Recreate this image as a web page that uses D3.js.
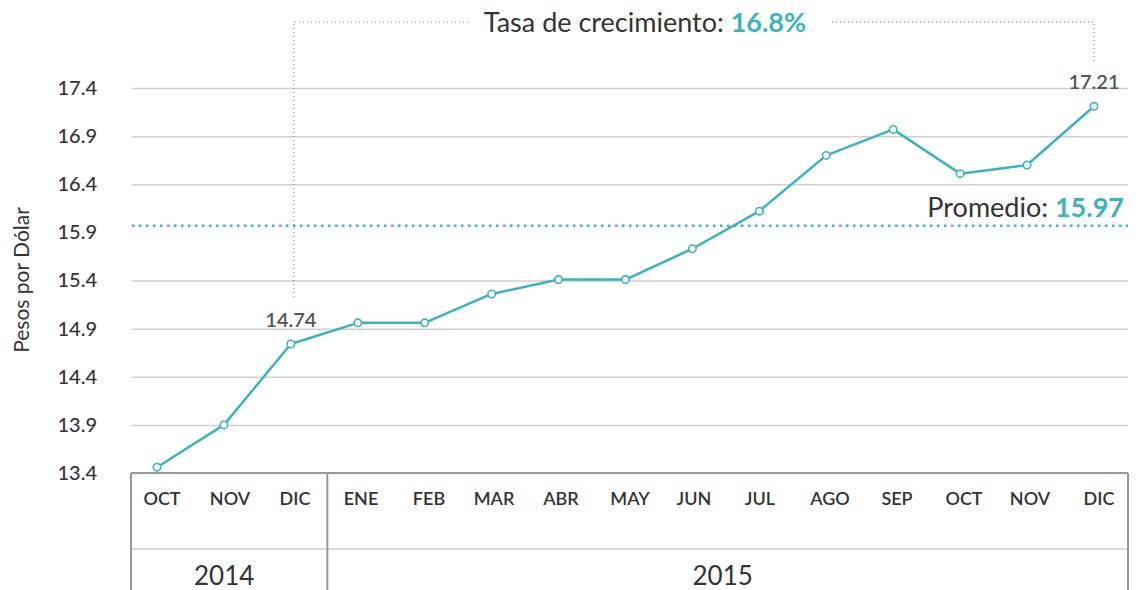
<!DOCTYPE html>
<html>
<head>
<meta charset="utf-8">
<script src="https://cdn.jsdelivr.net/npm/d3@7"></script>
<style>
  body { margin: 0; background: #fff; }
  svg { display: block; font-family: Lato, "Open Sans", sans-serif; }
</style>
</head>
<body>
<div id="chart"></div>
<script>
// datos: tipo de cambio mensual (pesos por dólar)
const meses = ['OCT', 'NOV', 'DIC', 'ENE', 'FEB', 'MAR', 'ABR', 'MAY', 'JUN', 'JUL', 'AGO', 'SEP', 'OCT', 'NOV', 'DIC'];
const anios = ['2014', '2014', '2014', '2015', '2015', '2015', '2015', '2015', '2015', '2015', '2015', '2015', '2015', '2015', '2015'];
const valores = [13.46, 13.90, 14.74, 14.96, 14.96, 15.26, 15.41, 15.41, 15.73, 16.12, 16.70, 16.97, 16.51, 16.60, 17.21];
const yTicks = [13.4, 13.9, 14.4, 14.9, 15.4, 15.9, 16.4, 16.9, 17.4];
const promedio = 15.97;
const tasaCrecimiento = '16.8%';
const etiquetados = [2, 14]; // indices con etiqueta de valor

const width = 1139;
const height = 590;
const tableLeft = 131;
const tableRight = 1128;
const tableTop = 473;
const tableMid = 549;
const teal = '#3db2bb';
const dark = '#333';

const svg = d3.select('#chart')
  .append('svg')
  .attr('width', width)
  .attr('height', height);

const idx = meses.map((d, i) => i);

const x = d3.scalePoint()
  .domain(idx)
  .range([157, 1094]);

const y = d3.scaleLinear()
  .domain([13.4, 17.4])
  .range([tableTop, 88]);

// eje y + lineas de grilla (la del promedio reemplaza a la grilla más cercana)
svg.append('g')
  .attr('transform', `translate(${tableLeft + 1},0)`)
  .call(d3.axisLeft(y).tickValues(yTicks).tickFormat(d3.format('.1f'))
    .tickSize(-(tableRight - tableLeft - 1)).tickPadding(35))
  .call(g => g.select('.domain').remove())
  .call(g => g.selectAll('.tick line')
    .attr('stroke', '#cfcfcf').attr('stroke-width', 1.5)
    .attr('stroke-opacity', d => Math.abs(d - promedio) < 0.1 ? 0 : 1))
  .call(g => g.selectAll('.tick text')
    .attr('fill', dark)
    .attr('font-size', 20)
    .attr('font-weight', 500)
    .attr('font-family', 'Lato, sans-serif'));

svg.append('text')
  .attr('transform', 'translate(29,280) rotate(-90)')
  .attr('text-anchor', 'middle')
  .attr('font-size', 21)
  .attr('fill', dark)
  .text('Pesos por Dólar');

// linea de promedio
svg.append('line')
  .attr('x1', tableLeft + 1)
  .attr('x2', tableRight)
  .attr('y1', y(promedio))
  .attr('y2', y(promedio))
  .attr('stroke', teal)
  .attr('stroke-width', 2.5)
  .attr('stroke-dasharray', '2.5,4.5');

const prom = svg.append('text')
  .attr('x', 1124)
  .attr('y', y(promedio) - 9)
  .attr('text-anchor', 'end')
  .attr('font-size', 27)
  .attr('fill', dark);
prom.append('tspan').text('Promedio: ');
prom.append('tspan').attr('font-weight', 'bold').attr('fill', teal).text(promedio.toFixed(2));

// tabla de meses / años
const tabla = svg.append('g');
tabla.append('line')
  .attr('x1', tableLeft).attr('x2', tableRight)
  .attr('y1', tableTop).attr('y2', tableTop)
  .attr('stroke', '#999').attr('stroke-width', 2);
tabla.append('line')
  .attr('x1', tableLeft).attr('x2', tableRight)
  .attr('y1', tableMid).attr('y2', tableMid)
  .attr('stroke', '#ccc').attr('stroke-width', 1.5);

const corte = anios.indexOf('2015');
const xDiv = (x(corte - 1) + x(corte)) / 2 + 3;
[tableLeft, xDiv, tableRight].forEach(xv => {
  tabla.append('line')
    .attr('x1', xv).attr('x2', xv)
    .attr('y1', tableTop).attr('y2', height)
    .attr('stroke', '#999').attr('stroke-width', 2);
});

const labelX = [162, 230, 295, 361, 429, 494, 561, 630, 694, 760, 830, 897, 964, 1030, 1099];
tabla.selectAll('.mes')
  .data(idx)
  .enter().append('text')
  .attr('class', 'mes')
  .attr('x', i => labelX[i])
  .attr('y', 505)
  .attr('text-anchor', 'middle')
  .attr('font-size', 18)
  .attr('font-weight', 600)
  .attr('fill', dark)
  .text(i => meses[i]);

const grupos = d3.groups(idx, i => anios[i]);
const limites = { '2014': [tableLeft, xDiv], '2015': [xDiv, tableRight] };
tabla.selectAll('.anio')
  .data(grupos)
  .enter().append('text')
  .attr('class', 'anio')
  .attr('x', d => (limites[d[0]][0] + limites[d[0]][1]) / 2 - 5)
  .attr('y', 585)
  .attr('text-anchor', 'middle')
  .attr('font-size', 26)
  .attr('fill', dark)
  .text(d => d[0]);

// anotacion de crecimiento
const i0 = etiquetados[0];
const i1 = etiquetados[1];
const topY = 22;
const anot = svg.append('g')
  .attr('fill', 'none')
  .attr('stroke', '#777')
  .attr('stroke-width', 1)
  .attr('stroke-dasharray', '1,3');
anot.append('path')
  .attr('d', `M${x(i0) + 3},${y(valores[i0]) - 47} V${topY} H470`);
anot.append('path')
  .attr('d', `M832,${topY} H${x(i1)} V${y(valores[i1]) - 44}`);

const tasa = svg.append('text')
  .attr('x', 645)
  .attr('y', 32)
  .attr('text-anchor', 'middle')
  .attr('font-size', 27)
  .attr('fill', dark);
tasa.append('tspan').text('Tasa de crecimiento: ');
tasa.append('tspan').attr('font-weight', 'bold').attr('fill', teal).text(tasaCrecimiento);

// linea de datos
const line = d3.line()
  .x(i => x(i))
  .y(i => y(valores[i]));

svg.append('path')
  .datum(idx)
  .attr('fill', 'none')
  .attr('stroke', teal)
  .attr('stroke-width', 2.5)
  .attr('stroke-linejoin', 'round')
  .attr('d', line);

svg.selectAll('.punto')
  .data(idx)
  .enter().append('circle')
  .attr('class', 'punto')
  .attr('cx', i => x(i))
  .attr('cy', i => y(valores[i]))
  .attr('r', 3.7)
  .attr('fill', '#fff')
  .attr('stroke', teal)
  .attr('stroke-width', 1.6);

svg.selectAll('.valor')
  .data(etiquetados)
  .enter().append('text')
  .attr('class', 'valor')
  .attr('x', i => x(i))
  .attr('y', i => y(valores[i]) - 17)
  .attr('text-anchor', 'middle')
  .attr('font-size', 20)
  .attr('font-weight', 600)
  .attr('fill', '#555')
  .text(i => valores[i].toFixed(2));
</script>
</body>
</html>
